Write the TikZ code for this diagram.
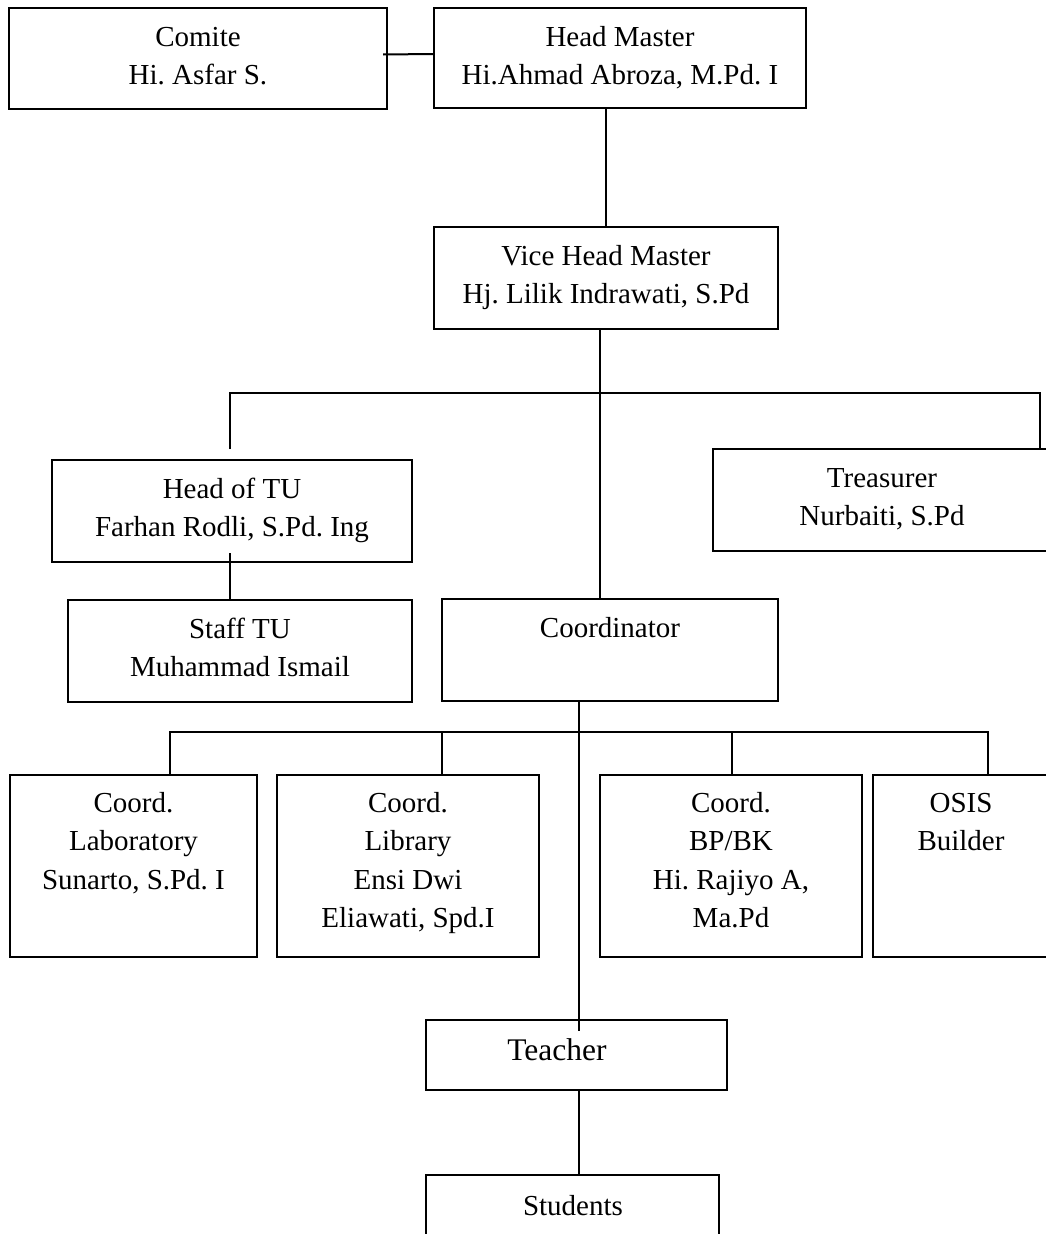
\documentclass[tikz,border=0pt]{standalone}
\usepackage{fontspec}
\setmainfont{Liberation Serif}
\frenchspacing
\begin{document}
\begin{tikzpicture}[x=1pt,y=-1pt,
  box/.style={draw, rectangle, line width=2.2pt, inner sep=0pt},
  txt/.style={anchor=base, align=center, inner sep=0pt,
              font=\fontsize{29}{38.5}\selectfont},
  bigtxt/.style={txt, font=\fontsize{31.5}{38.5}\selectfont},
  link/.style={line width=2pt}]
\useasboundingbox (0,0) rectangle (1046,1234);
\clip (0,0) rectangle (1046,1234);

% boxes
\node[box, minimum width=378pt, minimum height=101pt] (comite)   at (198,58.5) {};
\node[box, minimum width=372pt, minimum height=100pt] (head)     at (620,58) {};
\node[box, minimum width=344pt, minimum height=102pt] (vice)     at (606,278) {};
\node[box, minimum width=360pt, minimum height=102pt] (headtu)   at (232,511) {};
\node[box, minimum width=338pt, minimum height=102pt] (treas)    at (882,500) {};
\node[box, minimum width=344pt, minimum height=102pt] (staff)    at (240,651) {};
\node[box, minimum width=336pt, minimum height=102pt] (coord)    at (610,650) {};
\node[box, minimum width=247pt, minimum height=182pt] (lab)      at (133.5,866) {};
\node[box, minimum width=262pt, minimum height=182pt] (lib)      at (408,866) {};
\node[box, minimum width=262pt, minimum height=182pt] (bp)       at (731,866) {};
\node[box, minimum width=176pt, minimum height=182pt] (osis)     at (961,866) {};
\node[box, minimum width=301pt, minimum height=70pt]  (teacher)  at (576.5,1055) {};
\node[box, minimum width=293pt, minimum height=90pt]  (students) at (572.5,1220) {};

% texts (each placed by the baseline of its last line)
\node[txt] (comiteT)   at (198,84.5)   {Comite\\Hi. Asfar S.};
\node[txt] (headT)     at (620,84.5)   {Head Master\\Hi.Ahmad Abroza, M.Pd. I};
\node[txt] (viceT)     at (606,303.5)  {Vice Head Master\\Hj. Lilik Indrawati, S.Pd};
\node[txt] (headtuT)   at (232,536.5)  {Head of TU\\Farhan Rodli, S.Pd. Ing};
\node[txt] (treasT)    at (882,525.5)  {Treasurer\\Nurbaiti, S.Pd};
\node[txt] (staffT)    at (240,676.5)  {Staff TU\\Muhammad Ismail};
\node[txt] (coordT)    at (610,637)    {Coordinator};
\node[txt] (labT)      at (133.5,889)  {Coord.\\Laboratory\\Sunarto, S.Pd. I};
\node[txt] (libT)      at (408,927.5)  {Coord.\\Library\\Ensi Dwi\\Eliawati, Spd.I};
\node[txt] (bpT)       at (731,927.5)  {Coord.\\BP/BK\\Hi. Rajiyo A,\\Ma.Pd};
\node[txt] (osisT)     at (961,850.5)  {OSIS\\Builder};
\node[bigtxt] (teacherT) at (557,1060) {Teacher};
\node[txt] (studentsT) at (573,1215)   {Students};

% junction points
\coordinate (busL)  at (230,393);
\coordinate (busR)  at (1040,393);
\coordinate (tuEnd) at (230,449);
\coordinate (b2L)   at (170,732);
\coordinate (b2a)   at (442,732);
\coordinate (b2b)   at (732,732);
\coordinate (b2R)   at (988,732);
\coordinate (spine) at (578.5,732);

% connectors
\draw[link] ([yshift=4pt,xshift=-5pt]comite.east) -- ([yshift=4pt]head.west);
\draw[link] (head.south -| vice.north) -- (vice.north);
\draw[link] ([xshift=-6pt]vice.south) -- ([xshift=-6pt]vice.south |- coord.north);
\draw[link] (tuEnd) -- (busL) -- (busR) -- (busR |- treas.north);
\draw[link] ([xshift=-2pt,yshift=10pt]headtu.south) -- ([xshift=-2pt]headtu.south |- staff.north);
\draw[link] (spine |- coord.south) -- ([yshift=-12pt]spine |- teacher.north);
\draw[link] (b2L |- lab.north) -- (b2L) -- (b2R) -- (b2R |- osis.north);
\draw[link] (b2a) -- (b2a |- lib.north);
\draw[link] (b2b) -- (b2b |- bp.north);
\draw[link] (spine |- teacher.south) -- (spine |- students.north);
\end{tikzpicture}
\end{document}
